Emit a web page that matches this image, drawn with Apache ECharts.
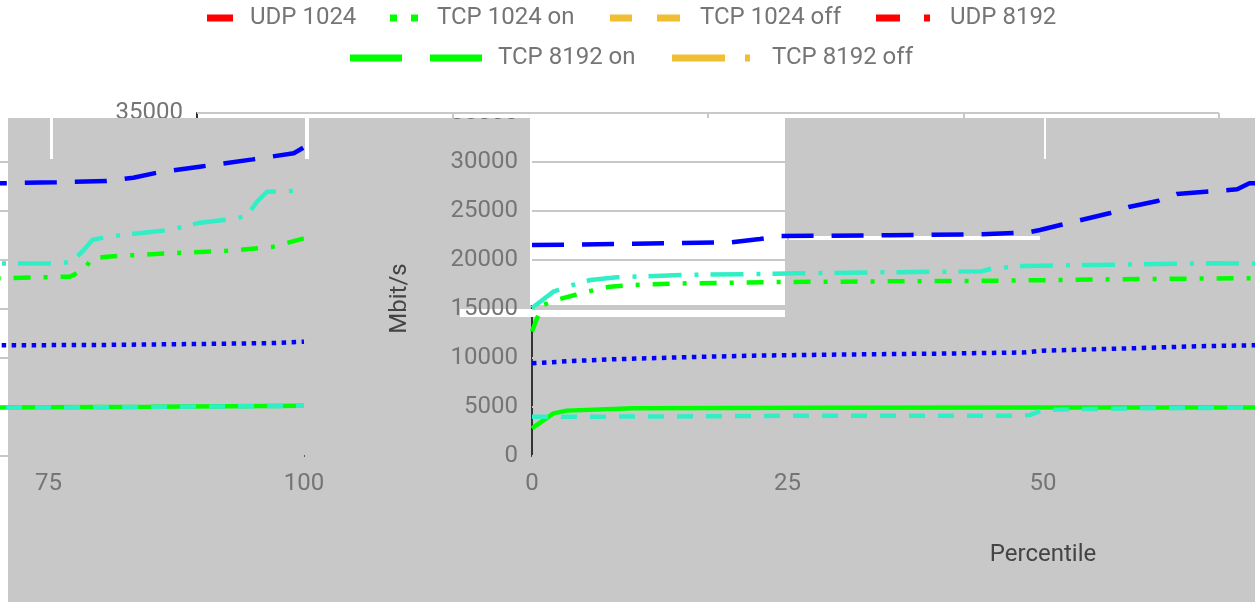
<!DOCTYPE html>
<html><head><meta charset="utf-8">
<script src="https://cdn.jsdelivr.net/npm/echarts@6/dist/echarts.min.js"></script>
<style>
html,body{margin:0;padding:0;width:1255px;height:602px;overflow:hidden;background:#fff;position:relative;font-family:Roboto,sans-serif}
.abs{position:absolute}
</style></head><body>
<div class="abs" style="left:8px;top:118px;width:1247px;height:484px;background:#c8c8c8"></div>
<div class="abs" style="left:460px;top:309px;width:72px;height:8px;background:#fff"></div>
<div class="abs" style="left:785px;top:236px;width:255px;height:4px;background:#fff"></div>
<div class="abs" style="left:49px;top:118px;width:4px;height:41px;background:#fff"></div>
<div class="abs" style="left:305px;top:118px;width:4px;height:41px;background:#fff"></div>
<div class="abs" style="left:1042px;top:118px;width:4px;height:41px;background:#fff"></div>
<div class="abs" style="left:0;top:118px;width:1255px;height:484px;overflow:hidden">
  <div id="chartB" class="abs" style="left:-915px;top:-118px;width:1255px;height:602px"></div>
  <div id="chartA" class="abs" style="left:335px;top:-118px;width:1255px;height:602px"></div>
</div>
<div class="abs" style="left:0;top:0;width:1255px;height:118px;overflow:hidden">
  <div id="chartC" class="abs" style="left:0;top:0;width:1255px;height:602px"></div>
</div>
<script>
// ---- data: [percentile, Mbit/s] ----
const xTicks = [0, 25, 50, 75, 100];
const yTicks = [0, 5000, 10000, 15000, 20000, 25000, 30000, 35000];
const seriesNames = ['UDP 1024', 'TCP 1024 on', 'TCP 1024 off', 'UDP 8192', 'TCP 8192 on', 'TCP 8192 off'];

const udp1024 = [[0,9460],[4,9700],[8,9870],[15,10080],[21.7,10240],[30,10350],[40,10450],[48,10560],[50,10750],[58.8,10990],[65,11200],[70.7,11300],[80,11330],[89.8,11430],[97,11520],[100,11670]];
const tcp1024on = [[0,2820],[2.1,4350],[3.4,4630],[9.9,4860],[27.9,4930],[50,4950],[70,4960],[85,5030],[100,5130]];
const tcp1024off = [[0,4010],[10,4020],[26.2,4110],[47.5,4110],[48.7,4180],[50,4690],[52.3,4760],[58.8,4860],[70.7,4930],[85,5000],[100,5130]];
const udp8192 = [[0,21530],[10,21650],[19.4,21800],[22.3,22140],[24.3,22450],[35,22520],[44,22620],[48.5,22800],[49.7,23060],[51.7,23570],[56.6,24800],[58.5,25440],[61.2,26020],[63.1,26740],[65.9,26970],[69,27210],[70.2,27830],[75.8,27930],[80.7,28060],[83.3,28400],[85.6,28910],[89.8,29520],[95,30270],[99,30890],[100,31500]];
const tcp8192on = [[0,12690],[0.5,14080],[1.1,15410],[2.7,16020],[5.4,16770],[7.6,17280],[9.8,17450],[15.2,17620],[25,17760],[34.7,17820],[46,17890],[56.8,18030],[70.7,18150],[77.1,18300],[78.4,18980],[79.3,20170],[80.7,20340],[86.6,20680],[93,20950],[97,21360],[100,22210]];
const tcp8192off = [[0,15100],[2.1,16770],[4,17450],[5.7,17960],[8.3,18230],[14.5,18470],[26.5,18640],[34.3,18740],[44,18850],[45.1,19150],[48,19390],[54.3,19490],[66.6,19660],[72,19650],[76,19650],[77.3,19830],[78.3,20850],[79.3,22040],[80.8,22380],[86.9,23060],[89.8,23810],[92.8,24150],[94.4,24490],[95.4,25950],[96.4,26970],[100,27070]];

// ---- styles ----
const BLUE = '#0000ff', GREEN = '#00ff00', CYAN = '#30efc5';
const RED = '#ff0000', ORANGE = '#f0be32';
const lineDefs = [
  {name: seriesNames[1], data: tcp1024on, color: GREEN, dash: 'solid'},
  {name: seriesNames[2], data: tcp1024off, color: CYAN, dash: [16, 13]},
  {name: seriesNames[0], data: udp1024, color: BLUE, dash: [4.5, 5.5]},
  {name: seriesNames[4], data: tcp8192on, color: GREEN, dash: [17, 13, 4, 13]},
  {name: seriesNames[5], data: tcp8192off, color: CYAN, dash: [33, 13, 4, 12]},
  {name: seriesNames[3], data: udp8192, color: BLUE, dash: [32, 18]}
];
const legendDefs = [
  {name: seriesNames[0], color: RED, icon: 'path://M0,0H26V7H0Z', w: 26, left: 207, top: 6, pad: 12},
  {name: seriesNames[1], color: GREEN, icon: 'path://M0,0H7V7H0ZM21,0H28V7H21Z', w: 28, left: 390, top: 6, pad: 14},
  {name: seriesNames[2], color: ORANGE, icon: 'path://M0,0H22V7H0ZM47,0H70V7H47Z', w: 70, left: 610, top: 6, pad: 15},
  {name: seriesNames[3], color: RED, icon: 'path://M0,0H24V7H0ZM48,0H54V7H48Z', w: 54, left: 876, top: 6, pad: 15},
  {name: seriesNames[4], color: GREEN, icon: 'path://M0,0H52V7H0ZM80,0H132V7H80Z', w: 132, left: 350, top: 46, pad: 11},
  {name: seriesNames[5], color: ORANGE, icon: 'path://M0,0H53V7H0ZM73,0H78V7H73Z', w: 78, left: 672, top: 46, pad: 17}
];

function makeOption(withLegend, withRect) {
  const opt = {
    animation: false,
    textStyle: {fontFamily: 'Roboto'},
    grid: {left: 197, right: 36, top: 113, bottom: 146, containLabel: false, outerBoundsMode: 'none'},
    xAxis: {
      type: 'value', min: xTicks[0], max: xTicks[xTicks.length - 1], interval: xTicks[1] - xTicks[0],
      name: 'Percentile', nameLocation: 'middle', nameGap: 87,
      nameTextStyle: {fontSize: 24, color: '#444'},
      axisLine: {show: true, lineStyle: {color: '#333', width: 2}},
      axisTick: {show: false},
      axisLabel: {fontSize: 24, color: '#757575', margin: 16, formatter: v => String(v)},
      splitLine: {show: true, lineStyle: {color: '#c8c8c8', width: 2}},
      z: 0
    },
    yAxis: [{
      type: 'value', min: yTicks[0], max: yTicks[yTicks.length - 1], interval: yTicks[1] - yTicks[0],
      name: 'Mbit/s', nameLocation: 'middle', nameGap: 120, nameRotate: 90,
      nameTextStyle: {fontSize: 24, color: '#444', padding: [0, 28, 0, 0]},
      axisLine: {show: true, lineStyle: {color: '#333', width: 2}},
      axisTick: {show: false},
      axisLabel: {fontSize: 24, color: '#757575', margin: 14, formatter: v => String(v)},
      splitLine: {show: false},
      z: 0
    }, {
      type: 'value', min: yTicks[0], max: yTicks[yTicks.length - 1], interval: yTicks[1] - yTicks[0],
      position: 'left',
      axisLine: {show: false}, axisTick: {show: false}, axisLabel: {show: false},
      splitLine: {show: true, lineStyle: {color: '#c8c8c8', width: 2}},
      z: 2
    }],
    legend: [],
    series: lineDefs.map(d => ({
      name: d.name, type: 'line', data: d.data, showSymbol: false, symbol: 'none',
      lineStyle: {color: d.color, width: 4.5, type: d.dash, cap: 'butt'},
      itemStyle: {color: d.color}, z: 3, silent: true
    }))
  };
  if (withLegend) {
    opt.legend = legendDefs.map(l => ({
      show: true, left: l.left, top: l.top, itemWidth: l.w, itemHeight: 7, selectedMode: false,
      padding: 0,
      data: [{name: l.name, icon: l.icon, itemStyle: {color: l.color, borderWidth: 0}}],
      textStyle: {fontSize: 24, color: '#757575', fontFamily: 'Roboto', lineHeight: 24, padding: [0, 0, 0, l.pad]}
    }));
  }
  if (withRect) {
    opt.graphic = {
      elements: [
        {type: 'rect', silent: true, z: 1, shape: {x: 195, y: 118, width: 255, height: 187}, style: {fill: '#fff'}},
        {type: 'rect', silent: true, z: 1, shape: {x: 195, y: 309, width: 255, height: 8}, style: {fill: '#fff'}}
      ]
    };
  }
  return opt;
}

echarts.init(document.getElementById('chartB'), null, {renderer: 'canvas'}).setOption(makeOption(false, false));
echarts.init(document.getElementById('chartA'), null, {renderer: 'canvas'}).setOption(makeOption(false, true));
echarts.init(document.getElementById('chartC'), null, {renderer: 'canvas'}).setOption(makeOption(true, false));
</script>
</body></html>
